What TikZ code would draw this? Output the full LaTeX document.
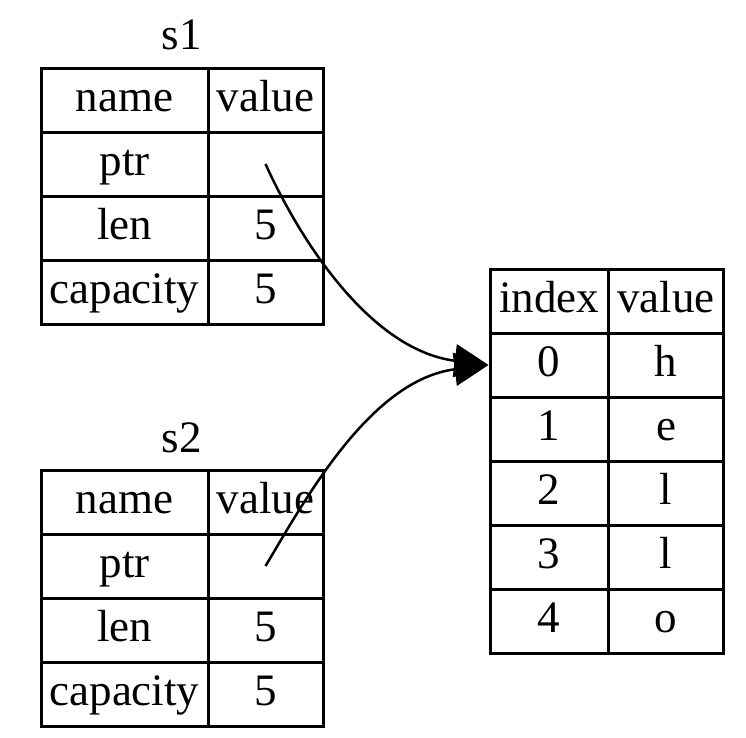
\documentclass[tikz,border=0pt]{standalone}
\usepackage{fontspec}
\setmainfont{Liberation Serif}
\usetikzlibrary{arrows.meta}
\begin{document}
\begin{tikzpicture}[x=1pt,y=-1pt,
  txt/.style={font=\fontsize{45}{54}\selectfont, inner sep=0pt},
  cell/.style={txt, draw, line width=3pt, minimum height=64pt, text height=30pt, text depth=8pt},
  ca/.style={cell, minimum width=167pt},
  cb/.style={cell, minimum width=115pt},
  ci/.style={cell, minimum width=118pt},
  edge/.style={line width=2.5pt, -{Triangle[length=34pt,width=33pt]}}]
\useasboundingbox (0,0) rectangle (746,737);
% s1
\node[txt, anchor=base] (s1lab) at (182,49) {s1};
\node[ca] (s1h1) at (124.5,100) {name};
\node[cb] (s1h2) at (265.5,100) {value};
\node[ca] (s1ptr) at (124.5,164) {ptr};
\node[cb] (s1ptrv) at (265.5,164) {};
\node[ca] (s1len) at (124.5,228) {len};
\node[cb] (s1lenv) at (265.5,228) {5};
\node[ca] (s1cap) at (124.5,292) {capacity};
\node[cb] (s1capv) at (265.5,292) {5};
% s2
\node[txt, anchor=base] (s2lab) at (182,452) {s2};
\node[ca] (s2h1) at (124.5,502) {name};
\node[cb] (s2h2) at (265.5,502) {value};
\node[ca] (s2ptr) at (124.5,566) {ptr};
\node[cb] (s2ptrv) at (265.5,566) {};
\node[ca] (s2len) at (124.5,630) {len};
\node[cb] (s2lenv) at (265.5,630) {5};
\node[ca] (s2cap) at (124.5,694) {capacity};
\node[cb] (s2capv) at (265.5,694) {5};
% heap
\node[ci] (ih1) at (549,301) {index};
\node[cb] (ih2) at (666,301) {value};
\node[ci] (i0) at (549,365) {0};
\node[cb] (v0) at (666,365) {h};
\node[ci] (i1) at (549,429) {1};
\node[cb] (v1) at (666,429) {e};
\node[ci] (i2) at (549,493) {2};
\node[cb] (v2) at (666,493) {l};
\node[ci] (i3) at (549,557) {3};
\node[cb] (v3) at (666,557) {l};
\node[ci] (i4) at (549,621) {4};
\node[cb] (v4) at (666,621) {o};
% edges
\draw[edge] (s1ptrv.center) .. controls (300,240) and (370,350) .. (i0.west);
\draw[edge] (s2ptrv.center) .. controls (305,500) and (370,380) .. (i0.west);
\end{tikzpicture}
\end{document}
